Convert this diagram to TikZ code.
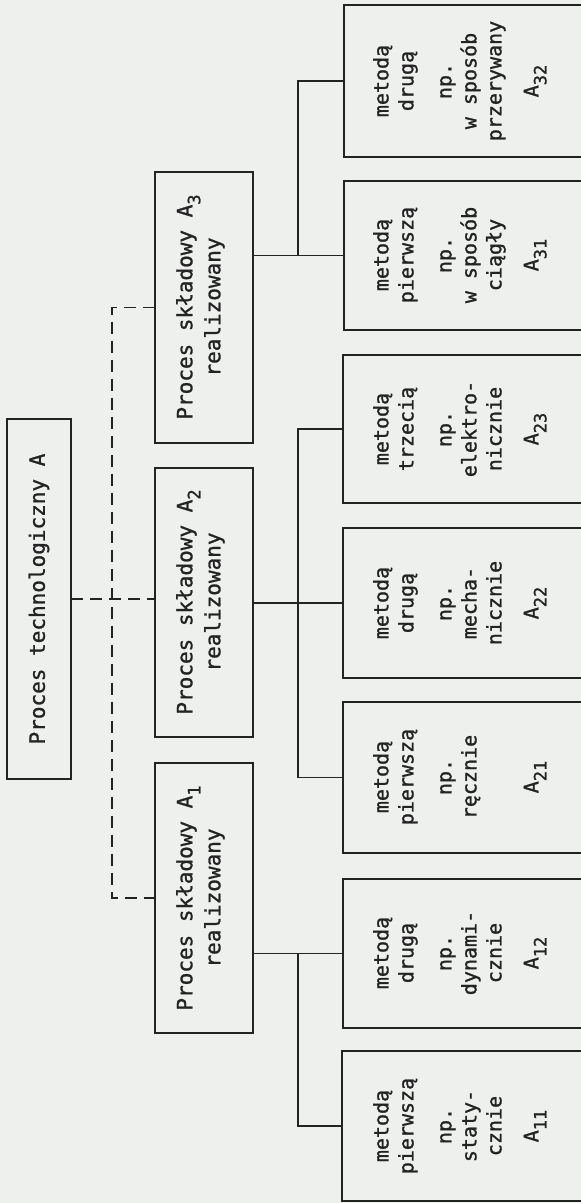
\documentclass[tikz,border=0pt]{standalone}
\usepackage{fontspec}
\setmainfont{DejaVu Sans Mono}
\newfontfamily\twfont{DejaVu Sans Mono}[FakeBold=1.2]
\newcommand{\mysub}[1]{\raisebox{-8pt}{\fontsize{17}{17}\selectfont #1}}
\definecolor{ink}{RGB}{35,35,35}
\definecolor{paper}{RGB}{238,240,238}
\begin{document}
\begin{tikzpicture}[x=1pt,y=-1pt,
  box/.style={draw=ink, line width=2pt, inner sep=0pt, outer sep=0pt, anchor=north west},
  ctext/.style={rotate=90, anchor=north, inner sep=0pt, align=center, text=ink, font=\twfont\fontsize{20}{25}\selectfont},
  ptext/.style={rotate=90, anchor=north, inner sep=0pt, align=center, text=ink, font=\twfont\fontsize{21}{28}\selectfont},
  rtext/.style={rotate=90, anchor=center, inner sep=0pt, text=ink, font=\twfont\fontsize{21}{26}\selectfont},
  link/.style={draw=ink, line width=1.3pt},
  dsh/.style={draw=ink, line width=1.3pt, dash pattern=on 12pt off 7pt}]
\useasboundingbox (0,0) rectangle (581,1203);
\clip (0,0) rectangle (581,1203);
\fill[paper] (0,0) rectangle (581,1203);

% root
\node[box, minimum width=64, minimum height=360] (root) at (7,419) {};
\node[rtext] (roott) at (root.center) {Proces technologiczny A};

% level 1
\node[box, minimum width=98, minimum height=271] (a3) at (155,172) {};
\node[box, minimum width=98, minimum height=269] (a2) at (155,468) {};
\node[box, minimum width=98, minimum height=270] (a1) at (155,763) {};
\node[ptext] (a3t) at (176,307) {Proces składowy A\mysub{3}\\realizowany};
\node[ptext] (a2t) at (176,602) {Proces składowy A\mysub{2}\\realizowany};
\node[ptext] (a1t) at (176,898) {Proces składowy A\mysub{1}\\realizowany};

% level 2
\node[box, minimum width=250, minimum height=152] (a32) at (344,5) {};
\node[box, minimum width=250, minimum height=149] (a31) at (344,181) {};
\node[box, minimum width=250, minimum height=148] (a23) at (343,355) {};
\node[box, minimum width=250, minimum height=150] (a22) at (343,528) {};
\node[box, minimum width=250, minimum height=151] (a21) at (343,702) {};
\node[box, minimum width=250, minimum height=149] (a12) at (343,879) {};
\node[box, minimum width=250, minimum height=150] (a11) at (342,1051) {};

\node[ctext] (a32t) at (373,81) {metodą\\drugą\\[13pt]np.\\w sposób\\przerywany\\[12pt]A\mysub{32}};
\node[ctext] (a31t) at (373,255) {metodą\\pierwszą\\[13pt]np.\\w sposób\\ciągły\\[12pt]A\mysub{31}};
\node[ctext] (a23t) at (373,429) {metodą\\trzecią\\[13pt]np.\\elektro-\\nicznie\\[12pt]A\mysub{23}};
\node[ctext] (a22t) at (373,603) {metodą\\drugą\\[13pt]np.\\mecha-\\nicznie\\[12pt]A\mysub{22}};
\node[ctext] (a21t) at (373,777) {metodą\\pierwszą\\[13pt]np.\\ręcznie\\[37pt]A\mysub{21}};
\node[ctext] (a12t) at (373,953) {metodą\\drugą\\[13pt]np.\\dynami-\\cznie\\[12pt]A\mysub{12}};
\node[ctext] (a11t) at (373,1126) {metodą\\pierwszą\\[13pt]np.\\staty-\\cznie\\[12pt]A\mysub{11}};

% dashed connections
\coordinate (dv) at (112,0);
\draw[dsh] (root.east) -- (root.east -| a2.west);
\draw[dsh] (a3.west) -- (a3.west -| dv) -- (a1.west -| dv) -- (a1.west);

% solid connections
\coordinate (bx) at (298,0);
\draw[link] (a3.east |- a31.west) -- (a31.west);
\draw[link] (a32.west) -- (a32.west -| bx) -- (a31.west -| bx);
\draw[link] (a2.east |- a22.west) -- (a22.west);
\draw[link] (a23.west) -- (a23.west -| bx) -- (a21.west -| bx) -- (a21.west);
\draw[link] (a1.east |- a12.west) -- (a12.west);
\draw[link] (a12.west -| bx) -- (a11.west -| bx) -- (a11.west);
\end{tikzpicture}
\end{document}
